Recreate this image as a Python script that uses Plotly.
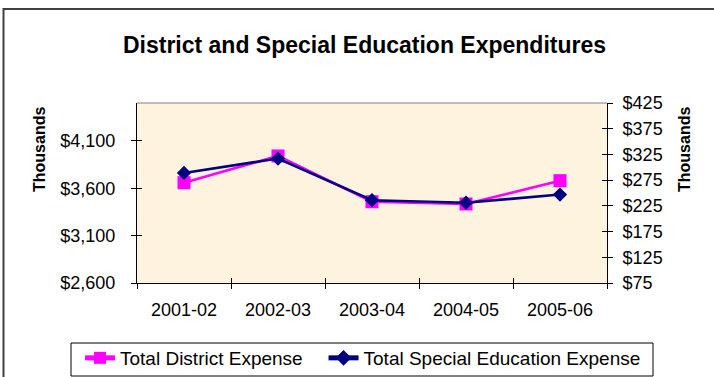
import plotly.graph_objects as go

# School-year categories
years = ["2001-02", "2002-03", "2003-04", "2004-05", "2005-06"]

# Expenditures in thousands of dollars
district_expense = [3659, 3941, 3458, 3434, 3680]      # left axis
special_ed_expense = [289, 317, 236, 231, 247]           # right axis

left_ticks = [2600, 3100, 3600, 4100]
right_ticks = [75, 125, 175, 225, 275, 325, 375, 425]

W, H = 714, 377
L, R, T, B = 137, 107, 103, 94
PW, PH = W - L - R, H - T - B

FONT = "Liberation Sans, Arial, sans-serif"
PINK = "#FF00FF"
NAVY = "#000080"
NBSP = "\u00a0"


def px_x(px):
    return (px - L) / PW


def px_y(py):
    return (H - B - py) / PH


fig = go.Figure()
fig.add_trace(go.Scatter(
    x=years, y=district_expense, name="Total District Expense" + NBSP * 3,
    mode="lines+markers",
    line=dict(color=PINK, width=2.6),
    marker=dict(symbol="square", size=13, color=PINK),
))
fig.add_trace(go.Scatter(
    x=years, y=special_ed_expense, name="Total Special Education Expense",
    mode="lines+markers", yaxis="y2",
    line=dict(color=NAVY, width=2.6),
    marker=dict(symbol="diamond", size=11, color=NAVY),
))

# Empty traces so the overlay axes carrying the inner half of each tick get drawn
fig.add_trace(go.Scatter(x=[], y=[], xaxis="x2", yaxis="y3",
                         showlegend=False, hoverinfo="skip"))
fig.add_trace(go.Scatter(x=[], y=[], yaxis="y4",
                         showlegend=False, hoverinfo="skip"))

tick_font = dict(family=FONT, size=18, color="black")
n = len(years)

fig.update_layout(
    width=W, height=H,
    margin=dict(l=L, r=R, t=T, b=B, autoexpand=False),
    paper_bgcolor="white",
    plot_bgcolor="#FDF3DE",
    font=dict(family=FONT, color="black"),
    title=dict(
        text="<b>District and Special Education Expenditures</b>",
        font=dict(family=FONT, size=23, color="black"),
        x=364.5 / W, xref="container", xanchor="center",
        y=1 - 44.5 / H, yref="container", yanchor="middle",
    ),
    xaxis=dict(
        type="category", categoryorder="array", categoryarray=years,
        range=[-0.5, n - 0.5],
        tickson="boundaries", ticks="outside", ticklen=5, tickcolor="black",
        showline=True, linecolor="black", linewidth=1,
        showgrid=False, zeroline=False, tickfont=tick_font,
        ticklabelstandoff=10, automargin=False,
    ),
    xaxis2=dict(
        overlaying="x", anchor="y", side="bottom",
        range=[-0.5, n - 0.5],
        tickvals=[i - 0.5 for i in range(n + 1)],
        ticks="inside", ticklen=5, tickcolor="black",
        showticklabels=False, showline=False, showgrid=False, zeroline=False,
    ),
    yaxis=dict(
        range=[2600, 4500], tickvals=left_ticks, tickformat="$,.0f",
        ticks="outside", ticklen=5, tickcolor="black",
        showline=True, linecolor="black", linewidth=1,
        showgrid=False, zeroline=False, tickfont=tick_font,
        ticklabelstandoff=12, automargin=False,
    ),
    yaxis2=dict(
        overlaying="y", side="right", anchor="x",
        range=[75, 425], tickvals=right_ticks, tickformat="$,.0f",
        ticks="outside", ticklen=5, tickcolor="black",
        showline=True, linecolor="black", linewidth=1,
        showgrid=False, zeroline=False, tickfont=tick_font,
        ticklabelstandoff=6, automargin=False,
    ),
    yaxis3=dict(
        overlaying="y", side="left", anchor="x2",
        range=[2600, 4500], tickvals=left_ticks,
        ticks="inside", ticklen=5, tickcolor="black",
        showticklabels=False, showline=False, showgrid=False, zeroline=False,
    ),
    yaxis4=dict(
        overlaying="y", side="right", anchor="x",
        range=[75, 425], tickvals=right_ticks,
        ticks="inside", ticklen=5, tickcolor="black",
        showticklabels=False, showline=False, showgrid=False, zeroline=False,
    ),
    legend=dict(
        orientation="h",
        x=px_x(80), xanchor="left",
        y=px_y(339), yanchor="top",
        bgcolor="rgba(0,0,0,0)", borderwidth=0,
        font=dict(family=FONT, size=19, color="black"),
        itemsizing="constant",
    ),
    showlegend=True,
)

# Legend frame
fig.add_shape(type="rect", xref="paper", yref="paper",
              x0=px_x(71), x1=px_x(653), y0=px_y(376), y1=px_y(343),
              line=dict(color="black", width=1), fillcolor="white",
              layer="below")

# Axis titles
for xpx in (39, 684):
    fig.add_annotation(
        text="<b>Thousands</b>", textangle=-90,
        x=px_x(xpx), y=px_y(150), xref="paper", yref="paper",
        xanchor="center", yanchor="middle", showarrow=False,
        font=dict(family=FONT, size=16, color="black"),
    )

# Top edge of the plot area
fig.add_shape(type="line", xref="paper", yref="paper",
              x0=0, x1=1, y0=1, y1=1,
              line=dict(color="#808080", width=1))

# Outer chart frame (runs past the right and bottom edges)
fig.add_shape(type="rect", xref="paper", yref="paper",
              x0=px_x(3.5), x1=px_x(730), y0=px_y(395), y1=px_y(9),
              line=dict(color="#404040", width=2), fillcolor="rgba(0,0,0,0)",
              layer="above")

fig.write_html("out.html")
